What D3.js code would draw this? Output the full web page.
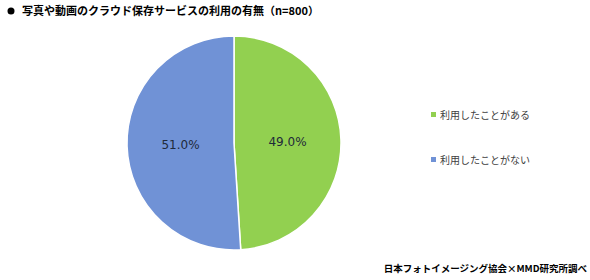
<!DOCTYPE html>
<html>
<head>
<meta charset="utf-8">
<script src="https://d3js.org/d3.v7.min.js"></script>
<style>
  body { margin: 0; background: #fff; }
  svg { display: block; }
</style>
</head>
<body>
<div id="chart"></div>
<script>
// chart data
const categories = ["利用したことがある", "利用したことがない"];
const values = [49.0, 51.0];
const colors = ["#92d050", "#7092d6"];
const titleText = "写真や動画のクラウド保存サービスの利用の有無（n=800）";
const sourceText = "日本フォトイメージング協会×MMD研究所調べ";

const width = 590, height = 280;
const font = "'Noto Sans CJK JP', 'Noto Sans', sans-serif";

const svg = d3.select("#chart").append("svg")
  .attr("width", width)
  .attr("height", height);

// title with bullet
svg.append("circle")
  .attr("cx", 11).attr("cy", 11).attr("r", 3.5)
  .attr("fill", "#000");
svg.append("text")
  .attr("x", 22).attr("y", 15)
  .text(titleText)
  .style("font-family", font)
  .style("font-size", "11px")
  .style("font-weight", "700")
  .style("fill", "#000");

// pie
const cx = 234, cy = 143, r = 107;
const pie = d3.pie().sort(null).value(d => d.v);
const arc = d3.arc().innerRadius(0).outerRadius(r);
const arcs = pie(categories.map((c, i) => ({ c: c, v: values[i], color: colors[i] })));

const g = svg.append("g").attr("transform", `translate(${cx},${cy})`);
g.selectAll("path")
  .data(arcs)
  .enter()
  .append("path")
  .attr("d", arc)
  .attr("fill", d => d.data.color)
  .attr("stroke", "#fff")
  .attr("stroke-width", 1.5);

// value labels
const labelArc = d3.arc().innerRadius(r * 0.5).outerRadius(r * 0.5);
g.selectAll(".label")
  .data(arcs)
  .enter()
  .append("text")
  .attr("class", "label")
  .attr("transform", d => `translate(${labelArc.centroid(d)})`)
  .attr("dy", ".35em")
  .attr("text-anchor", "middle")
  .text(d => d3.format(".1f")(d.data.v) + "%")
  .style("font-family", "Verdana, 'DejaVu Sans', sans-serif")
  .style("font-size", "12px")
  .style("fill", "#1f2a3a");

// legend
const legend = svg.selectAll(".legend")
  .data(categories)
  .enter()
  .append("g")
  .attr("class", "legend")
  .attr("transform", (d, i) => `translate(431, ${115 + i * 45})`);
legend.append("rect")
  .attr("x", 0).attr("y", -3)
  .attr("width", 5).attr("height", 5)
  .attr("fill", (d, i) => colors[i]);
legend.append("text")
  .attr("x", 9).attr("y", 0)
  .attr("dy", ".35em")
  .text(d => d)
  .style("font-family", font)
  .style("font-size", "10px")
  .style("fill", "#404040");

// source
svg.append("text")
  .attr("x", 587).attr("y", 272)
  .attr("text-anchor", "end")
  .text(sourceText)
  .style("font-family", font)
  .style("font-size", "9.5px")
  .style("font-weight", "700")
  .style("fill", "#000");
</script>
</body>
</html>
